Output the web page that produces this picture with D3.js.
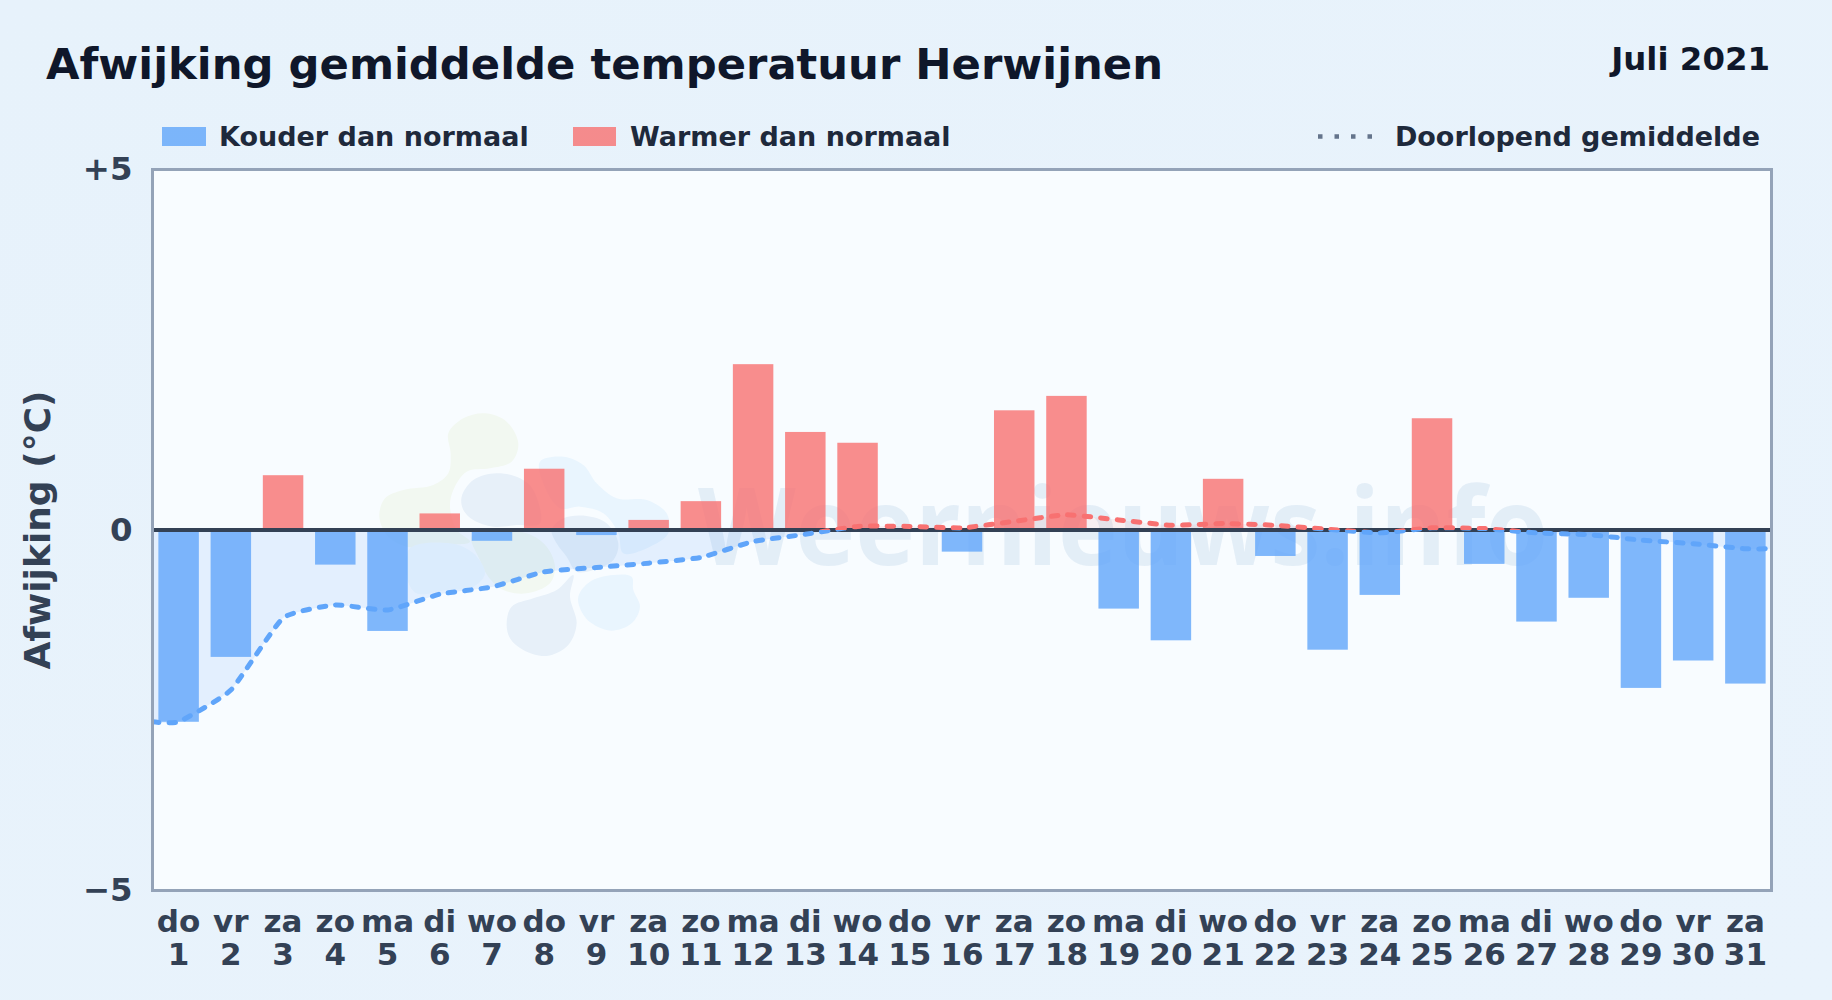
<!DOCTYPE html>
<html lang="nl">
<head>
<meta charset="utf-8">
<title>Afwijking gemiddelde temperatuur Herwijnen</title>
<script src="https://cdnjs.cloudflare.com/ajax/libs/d3/7.8.5/d3.min.js"></script>
<style>
  html, body { margin: 0; padding: 0; background: #e8f3fc; }
  svg { display: block; font-family: "DejaVu Sans", sans-serif; font-weight: 700; }
</style>
</head>
<body>
<div id="chart"></div>
<script>
// --- 1. Data ---
const dayNames = ["do","vr","za","zo","ma","di","wo","do","vr","za","zo","ma","di","wo","do","vr","za","zo","ma","di","wo","do","vr","za","zo","ma","di","wo","do","vr","za"];
const dayNumbers = [1,2,3,4,5,6,7,8,9,10,11,12,13,14,15,16,17,18,19,20,21,22,23,24,25,26,27,28,29,30,31];
const deviations = [-2.66,-1.76,0.76,-0.48,-1.40,0.23,-0.15,0.85,-0.07,0.14,0.40,2.30,1.36,1.21,0,-0.30,1.66,1.86,-1.09,-1.53,0.71,-0.36,-1.66,-0.90,1.55,-0.47,-1.27,-0.94,-2.19,-1.81,-2.13];
const runningMean = [-2.66,-2.22,-1.22,-1.04,-1.11,-0.89,-0.79,-0.58,-0.52,-0.46,-0.38,-0.16,-0.06,0.05,0.05,0.03,0.12,0.21,0.14,0.065,0.09,0.065,0.01,-0.04,0.03,0.02,-0.04,-0.065,-0.14,-0.19,-0.26];
const yTicks = [-5, 0, 5];
const yTickLabels = ["\u22125", "0", "+5"];

const titleText = "Afwijking gemiddelde temperatuur Herwijnen";
const periodText = "Juli 2021";
const yAxisLabel = "Afwijking (\u00b0C)";
const legendCold = "Kouder dan normaal";
const legendWarm = "Warmer dan normaal";
const legendMean = "Doorlopend gemiddelde";
const watermarkText = "Weernieuws.info";

// --- Colours ---
const BLUE = "#60a5fa";
const RED = "#f87171";
const SLATE = "#334155";

const totalWidth = 1832;
const totalHeight = 1000;
const margin = { top: 169.5, right: 60.5, bottom: 109.5, left: 152.5 };
const width = totalWidth - margin.left - margin.right;
const height = totalHeight - margin.top - margin.bottom;

const svg = d3.select("#chart").append("svg")
  .attr("width", totalWidth)
  .attr("height", totalHeight)
  .attr("viewBox", `0 0 ${totalWidth} ${totalHeight}`);

const defs = svg.append("defs");
const bgGradient = defs.append("linearGradient").attr("id", "page-bg")
  .attr("x1", "0").attr("y1", "0").attr("x2", "1").attr("y2", "1");
bgGradient.append("stop").attr("offset", "0").attr("stop-color", "#e7f2fb");
bgGradient.append("stop").attr("offset", "1").attr("stop-color", "#e9f3fc");

svg.append("rect").attr("width", totalWidth).attr("height", totalHeight).attr("fill", "url(#page-bg)");

// --- 2. Scales ---
const x = d3.scaleBand().domain(dayNumbers).range([0, width]).paddingInner(0.225).paddingOuter(0.1125);
const y = d3.scaleLinear().domain([-5, 5]).range([height, 0]);
const xCenter = (day) => x(day) + x.bandwidth() / 2;

svg.append("rect")
  .attr("x", margin.left).attr("y", margin.top)
  .attr("width", width).attr("height", height).attr("fill", "#f8fcff");

// --- 3. Watermark: logo blobs and site name (behind everything in the plot) ---
const blobs = [
  { fill: "#f2f8f1", pts: [[265,130],[310,85],[375,70],[440,95],[475,160],[455,215],[390,235],[320,245],[280,300],[270,350],[290,420],[330,455],[250,465],[150,472],[85,440],[58,380],[75,325],[130,300],[220,285],[265,250],[272,190]] },
  { fill: "#f2f8f1", pts: [[335,440],[400,425],[500,430],[560,470],[585,530],[570,580],[500,610],[430,600],[385,560],[360,510]] },
  { fill: "#e7f0f9", pts: [[305,320],[340,270],[410,250],[480,265],[520,300],[540,400],[470,405],[400,410],[340,390],[310,360]] },
  { fill: "#e7f0f9", pts: [[575,420],[610,385],[680,378],[740,400],[775,460],[760,510],[700,540],[650,545],[620,500],[590,460]] },
  { fill: "#e7f0f9", pts: [[440,700],[455,650],[520,625],[590,600],[640,555],[630,620],[650,700],[625,765],[560,798],[490,780],[450,745]] },
  { fill: "#e9f5fe", pts: [[540,215],[610,200],[670,225],[710,280],[770,325],[860,330],[920,370],[925,430],[870,470],[790,490],[775,430],[730,370],[660,350],[600,355],[550,280]] },
  { fill: "#e9f5fe", pts: [[655,620],[690,575],[760,555],[815,560],[820,600],[840,650],[815,700],[755,722],[695,700],[665,665]] },
  { fill: "#eff8fe", pts: [[150,475],[270,460],[340,490],[375,550],[340,590],[260,600],[170,610],[140,560]] },
];
const blobLine = d3.line().curve(d3.curveCatmullRomClosed);
const watermark = svg.append("g");
watermark.append("g")
  .attr("transform", "translate(360, 390) scale(0.3333)")
  .selectAll("path").data(blobs).join("path")
  .attr("d", (d) => blobLine(d.pts))
  .attr("fill", (d) => d.fill);
watermark.append("text")
  .attr("x", 698).attr("y", 565)
  .attr("textLength", 850).attr("lengthAdjust", "spacingAndGlyphs")
  .attr("font-family", "'Open Sans', 'Noto Sans', sans-serif")
  .attr("font-size", 107).attr("font-weight", 700)
  .attr("fill", "#b9d0e6").attr("fill-opacity", 0.32)
  .text(watermarkText);

const chart = svg.append("g").attr("transform", `translate(${margin.left}, ${margin.top})`);

// Clip areas above and below the zero line, the mean line changes colour there
defs.append("clipPath").attr("id", "clip-below").append("rect")
  .attr("x", 0).attr("y", y(0)).attr("width", width).attr("height", height - y(0));
defs.append("clipPath").attr("id", "clip-above").append("rect")
  .attr("x", 0).attr("y", 0).attr("width", width).attr("height", y(0));

// --- 4. Running mean area (behind the bars) ---
// The first and last value run on to the plot edges.
const meanPoints = [[0, runningMean[0]]]
  .concat(dayNumbers.map((d, i) => [xCenter(d), runningMean[i]]))
  .concat([[width, runningMean[runningMean.length - 1]]]);

const meanCurve = d3.curveCardinal.tension(0.55);
const meanArea = d3.area().curve(meanCurve)
  .x((d) => d[0]).y0(y(0)).y1((d) => y(d[1]));
const meanLine = d3.line().curve(meanCurve)
  .x((d) => d[0]).y((d) => y(d[1]));

const plot = chart.append("g");
plot.append("path").datum(meanPoints).attr("d", meanArea)
  .attr("fill", BLUE).attr("fill-opacity", 0.14).attr("clip-path", "url(#clip-below)");
plot.append("path").datum(meanPoints).attr("d", meanArea)
  .attr("fill", RED).attr("fill-opacity", 0.1).attr("clip-path", "url(#clip-above)");

// --- 5. Bars ---
plot.selectAll(".bar").data(deviations).join("rect")
  .attr("class", "bar")
  .attr("x", (d, i) => x(dayNumbers[i]))
  .attr("width", x.bandwidth())
  .attr("y", (d) => y(Math.max(d, 0)))
  .attr("height", (d) => Math.abs(y(d) - y(0)))
  .attr("fill", (d) => (d < 0 ? BLUE : RED))
  .attr("fill-opacity", 0.8);

// Zero line
plot.append("line")
  .attr("x1", 0).attr("x2", width).attr("y1", y(0)).attr("y2", y(0))
  .attr("stroke", SLATE).attr("stroke-width", 4);

// --- 6. Running mean line ---
[[BLUE, "clip-below"], [RED, "clip-above"]].forEach(([colour, clip]) => {
  plot.append("g").attr("clip-path", `url(#${clip})`)
    .append("path").datum(meanPoints).attr("d", meanLine)
    .attr("fill", "none").attr("stroke", colour).attr("stroke-width", 5)
    .attr("stroke-linecap", "round").attr("stroke-dasharray", "6.5 10");
});

// Plot frame
chart.append("rect").attr("width", width).attr("height", height)
  .attr("fill", "none").attr("stroke", "#94a3b8").attr("stroke-width", 3);

// --- 7. Axes ---
const yAxis = chart.append("g")
  .call(d3.axisLeft(y).tickValues(yTicks).tickSize(0).tickPadding(20)
    .tickFormat((d) => yTickLabels[yTicks.indexOf(d)]));
yAxis.select(".domain").remove();
yAxis.selectAll("text")
  .attr("font-family", "'DejaVu Sans', sans-serif").attr("font-weight", 700)
  .attr("font-size", 32.4).attr("fill", SLATE);

const xAxis = chart.append("g").attr("transform", `translate(0, ${height})`)
  .call(d3.axisBottom(x).tickSize(0).tickFormat(""));
xAxis.select(".domain").remove();
xAxis.selectAll(".tick text").each(function (d, i) {
  const label = d3.select(this).attr("y", null).attr("dy", null)
    .attr("font-family", "'DejaVu Sans', sans-serif").attr("font-weight", 700)
    .attr("font-size", 31).attr("fill", SLATE);
  label.append("tspan").attr("x", 0).attr("y", 41).text(dayNames[i]);
  label.append("tspan").attr("x", 0).attr("y", 74.5).text(d);
});

svg.append("text")
  .attr("transform", "translate(50, 530) rotate(-90)")
  .attr("text-anchor", "middle")
  .attr("font-size", 36).attr("fill", SLATE)
  .text(yAxisLabel);

// --- 8. Title and legend ---
svg.append("text").attr("x", 46).attr("y", 79)
  .attr("font-size", 43.3).attr("fill", "#0f172a").text(titleText);
svg.append("text").attr("x", 1770).attr("y", 70).attr("text-anchor", "end")
  .attr("font-size", 32.4).attr("fill", "#0f172a").text(periodText);

const legend = svg.append("g").attr("font-size", 27).attr("fill", "#1e293b");
legend.append("rect").attr("x", 162).attr("y", 127).attr("width", 44).attr("height", 19)
  .attr("fill", BLUE).attr("fill-opacity", 0.8);
legend.append("text").attr("x", 219).attr("y", 146).text(legendCold);
legend.append("rect").attr("x", 573).attr("y", 127).attr("width", 43).attr("height", 19)
  .attr("fill", RED).attr("fill-opacity", 0.8);
legend.append("text").attr("x", 630).attr("y", 146).text(legendWarm);
legend.append("line").attr("x1", 1318).attr("x2", 1373).attr("y1", 136.5).attr("y2", 136.5)
  .attr("stroke", "#64748b").attr("stroke-width", 4.5).attr("stroke-dasharray", "4.5 12");
legend.append("text").attr("x", 1760).attr("y", 146).attr("text-anchor", "end").text(legendMean);
</script>
</body>
</html>
